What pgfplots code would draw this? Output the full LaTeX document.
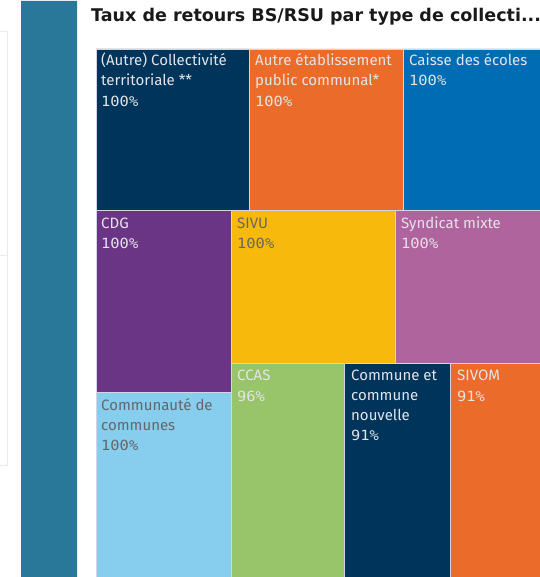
\documentclass[border=0pt]{standalone}
\usepackage{fontspec}
\setmainfont{Fira Sans}
\newfontfamily\numfont[FakeStretch=1.1]{DejaVu Sans Mono}
\newfontfamily\titlefont{DejaVu Sans}
\usepackage{pgfplots}
\pgfplotsset{compat=1.18}

\definecolor{cnavy}{HTML}{00345A}
\definecolor{corange}{HTML}{EA6B2A}
\definecolor{cblue}{HTML}{006CB4}
\definecolor{cpurple}{HTML}{6B3586}
\definecolor{cyellow}{HTML}{F7B90C}
\definecolor{cpink}{HTML}{B0649E}
\definecolor{clight}{HTML}{86CDEE}
\definecolor{cgreen}{HTML}{98C46A}
\definecolor{cstripe}{HTML}{2A7899}
\definecolor{cborder}{HTML}{D2D6E4}
\definecolor{ltext}{HTML}{E4E4E8}
\definecolor{dtext}{HTML}{66666A}

\newcommand{\lab}[4]{\node[anchor=base west,inner sep=0pt,text=#1,font=\fontsize{15bp}{20bp}\selectfont] at (axis cs:#2,#3) {#4};}
\newcommand{\num}[4]{\node[anchor=base west,inner sep=0pt,text=#1,font=\numfont\fontsize{14bp}{20bp}\selectfont] at (axis cs:#2,#3) {#4};}

\begin{document}
\begin{tikzpicture}
\begin{axis}[
    width=540bp, height=577bp, scale only axis,
    xmin=0, xmax=540, ymin=0, ymax=577,
    y dir=reverse,
    hide axis,
  ]
  % left panel
  \addplot[fill=cstripe, draw=none] coordinates {(21,1) (77,1) (77,577) (21,577) (21,1)};
  \addplot[draw=black!8, line width=0.7bp] coordinates {(0,31) (7,31) (7,465) (0,465)};
  \addplot[draw=black!8, line width=0.7bp] coordinates {(0,255) (7,255)};

  % treemap cells
  \addplot[fill=cnavy, draw=cborder, line width=0.8bp] coordinates {(96,49) (249.5,49) (249.5,210.5) (96,210.5) (96,49)};
  \addplot[fill=corange, draw=cborder, line width=0.8bp] coordinates {(249.5,49) (403.5,49) (403.5,210.5) (249.5,210.5) (249.5,49)};
  \addplot[fill=cblue, draw=cborder, line width=0.8bp] coordinates {(403.5,49) (545,49) (545,210.5) (403.5,210.5) (403.5,49)};
  \addplot[fill=cpurple, draw=cborder, line width=0.8bp] coordinates {(96,210.5) (231.5,210.5) (231.5,392.5) (96,392.5) (96,210.5)};
  \addplot[fill=cyellow, draw=cborder, line width=0.8bp] coordinates {(231.5,210.5) (395.5,210.5) (395.5,363.5) (231.5,363.5) (231.5,210.5)};
  \addplot[fill=cpink, draw=cborder, line width=0.8bp] coordinates {(395.5,210.5) (545,210.5) (545,363.5) (395.5,363.5) (395.5,210.5)};
  \addplot[fill=clight, draw=cborder, line width=0.8bp] coordinates {(96,392.5) (231.5,392.5) (231.5,580) (96,580) (96,392.5)};
  \addplot[fill=cgreen, draw=cborder, line width=0.8bp] coordinates {(231.5,363.5) (344.5,363.5) (344.5,580) (231.5,580) (231.5,363.5)};
  \addplot[fill=cnavy, draw=cborder, line width=0.8bp] coordinates {(344.5,363.5) (450.5,363.5) (450.5,580) (344.5,580) (344.5,363.5)};
  \addplot[fill=corange, draw=cborder, line width=0.8bp] coordinates {(450.5,363.5) (545,363.5) (545,580) (450.5,580) (450.5,363.5)};

  % title
  \node[anchor=base west,inner sep=0pt,text=black!90,font=\titlefont\fontsize{17.5bp}{20bp}\selectfont\bfseries] at (axis cs:91,22) {Taux de retours BS/RSU par type de collecti...};

  % labels
  \lab{ltext}{101}{66}{(Autre) Collectivité}
  \lab{ltext}{101}{86}{territoriale **}
  \num{ltext}{101}{106}{100\%}
  \lab{ltext}{255}{66}{Autre établissement}
  \lab{ltext}{255}{86}{public communal*}
  \num{ltext}{255}{106}{100\%}
  \lab{ltext}{409}{66}{Caisse des écoles}
  \num{ltext}{409}{86}{100\%}
  \lab{ltext}{101}{228}{CDG}
  \num{ltext}{101}{248}{100\%}
  \lab{dtext}{237}{228}{SIVU}
  \num{dtext}{237}{248}{100\%}
  \lab{ltext}{401}{228}{Syndicat mixte}
  \num{ltext}{401}{248}{100\%}
  \lab{ltext}{237}{380}{CCAS}
  \num{ltext}{237}{401}{96\%}
  \lab{dtext}{101}{410}{Communauté de}
  \lab{dtext}{101}{430}{communes}
  \num{dtext}{101}{450}{100\%}
  \lab{ltext}{351}{380}{Commune et}
  \lab{ltext}{351}{400}{commune}
  \lab{ltext}{351}{420}{nouvelle}
  \num{ltext}{351}{440}{91\%}
  \lab{ltext}{457}{380}{SIVOM}
  \num{ltext}{457}{401}{91\%}
\end{axis}
\pgfresetboundingbox
\useasboundingbox (0,0) rectangle (540bp,577bp);
\end{tikzpicture}
\end{document}
